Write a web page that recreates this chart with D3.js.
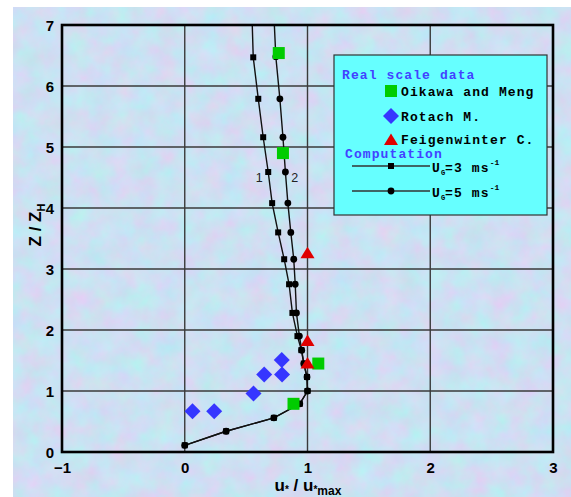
<!DOCTYPE html>
<html>
<head>
<meta charset="utf-8">
<script src="https://cdn.jsdelivr.net/npm/d3@7"></script>
<style>
  html, body { margin: 0; padding: 0; background: #fff; }
  svg { display: block; }
</style>
</head>
<body>
<div id="chart"></div>
<script>
//////////////////////////////////////////
//////////////// Data ////////////////////
//////////////////////////////////////////

// computed profile 1, U_G = 3 m/s (first point = where the line leaves the frame, no marker)
const ug3U = [0.55, 0.558, 0.599, 0.639, 0.680, 0.712, 0.761, 0.81, 0.85, 0.877, 0.918, 0.95, 0.97, 0.996, 1.0, 0.937, 0.726, 0.337, 0.0];
const ug3Z = [7.0, 6.47, 5.79, 5.16, 4.59, 4.08, 3.60, 3.16, 2.75, 2.28, 1.90, 1.67, 1.45, 1.23, 1.00, 0.79, 0.56, 0.34, 0.11];

// computed profile 2, U_G = 5 m/s
const ug5U = [0.73, 0.742, 0.775, 0.80, 0.82, 0.84, 0.864, 0.888, 0.90, 0.91, 0.934, 0.953, 0.97, 0.996, 1.0, 0.937, 0.726, 0.337, 0.0];
const ug5Z = [7.0, 6.48, 5.79, 5.16, 4.59, 4.08, 3.60, 3.16, 2.75, 2.28, 1.90, 1.67, 1.45, 1.23, 1.00, 0.79, 0.56, 0.34, 0.11];

// real scale data
const oikawaU = [0.766, 0.80, 1.088, 0.886];
const oikawaZ = [6.54, 4.90, 1.45, 0.79];
const rotachU = [0.063, 0.24, 0.56, 0.647, 0.793, 0.79];
const rotachZ = [0.67, 0.67, 0.96, 1.27, 1.27, 1.51];
const feigenU = [1.0, 1.0, 1.0];
const feigenZ = [3.26, 1.82, 1.45];

// curve labels
const curveLabels = ["1", "2"];
const curveLabelU = [0.607, 0.895];
const curveLabelZ = [4.5, 4.5];

const xTicks = [-1, 0, 1, 2, 3];
const yTicks = [0, 1, 2, 3, 4, 5, 6, 7];

//////////////////////////////////////////
/////////////// Settings /////////////////
//////////////////////////////////////////

const WIDTH = 571, HEIGHT = 497;
const PLOT = { left: 62, right: 553, top: 25, bottom: 452 };

const COLORS = {
    frame: "#000",
    grid: "#3a3a3a",
    line: "#111",
    green: "#00cc00",
    blue: "#3636ff",
    red: "#e00000",
    legendFill: "#66ffff",
    legendHead: "#4242ff"
};

const svg = d3.select("#chart").append("svg")
    .attr("width", WIDTH)
    .attr("height", HEIGHT);

//mottled pastel background
const defs = svg.append("defs");
const filt = defs.append("filter").attr("id", "paper")
    .attr("x", 0).attr("y", 0).attr("width", "100%").attr("height", "100%")
    .attr("color-interpolation-filters", "sRGB");
filt.append("feTurbulence")
    .attr("type", "fractalNoise")
    .attr("baseFrequency", 0.045)
    .attr("numOctaves", 4)
    .attr("seed", 7)
    .attr("result", "noise");
filt.append("feColorMatrix")
    .attr("in", "noise")
    .attr("type", "matrix")
    .attr("values", [
        0.22, 0, 0, 0, 0.69,
        -0.14, 0.06, 0, 0, 0.92,
        0, 0, 0.06, 0, 0.92,
        0, 0, 0, 0, 1
    ].join(" "));

svg.append("rect")
    .attr("x", 13).attr("y", 7)
    .attr("width", WIDTH - 13).attr("height", HEIGHT - 7)
    .attr("fill", "#cfe0f3");
svg.append("rect")
    .attr("x", 13).attr("y", 7)
    .attr("width", WIDTH - 13).attr("height", HEIGHT - 7)
    .attr("filter", "url(#paper)");

//////////////////////////////////////////
//////////////// Scales //////////////////
//////////////////////////////////////////

const x = d3.scaleLinear().domain([-1, 3]).range([PLOT.left, PLOT.right]);
const y = d3.scaleLinear().domain([0, 7]).range([PLOT.bottom, PLOT.top]);

// grid
const grid = svg.append("g");
grid.selectAll(".gx").data(xTicks.slice(1, -1)).join("line")
    .attr("x1", d => x(d)).attr("x2", d => x(d))
    .attr("y1", PLOT.top).attr("y2", PLOT.bottom)
    .attr("stroke", COLORS.grid).attr("stroke-width", 1.4);
grid.selectAll(".gy").data(yTicks.slice(1, -1)).join("line")
    .attr("x1", PLOT.left).attr("x2", PLOT.right)
    .attr("y1", d => y(d)).attr("y2", d => y(d))
    .attr("stroke", COLORS.grid).attr("stroke-width", 1.4);

// axes (labels only)
const xAxis = svg.append("g")
    .attr("transform", `translate(0,${PLOT.bottom})`)
    .call(d3.axisBottom(x).tickValues(xTicks).tickSize(0).tickPadding(7).tickFormat(d3.format("d")));
const yAxis = svg.append("g")
    .attr("transform", `translate(${PLOT.left},0)`)
    .call(d3.axisLeft(y).tickValues(yTicks).tickSize(0).tickPadding(8).tickFormat(d3.format("d")));
[xAxis, yAxis].forEach(a => {
    a.select(".domain").remove();
    a.selectAll("text")
        .attr("font-family", "Liberation Sans, Arial, sans-serif")
        .attr("font-weight", "bold")
        .attr("font-size", 15)
        .attr("fill", "#000");
});
xAxis.selectAll("text").attr("dy", "0.9em");
yAxis.selectAll("text").attr("dy", "0.35em");

//////////////////////////////////////////
//////////////// Curves //////////////////
//////////////////////////////////////////

const line = d3.line().x(d => x(d[0])).y(d => y(d[1]));
const clip = defs.append("clipPath").attr("id", "plotclip");
clip.append("rect").attr("x", PLOT.left).attr("y", PLOT.top)
    .attr("width", PLOT.right - PLOT.left).attr("height", PLOT.bottom - PLOT.top);

const curves = svg.append("g").attr("clip-path", "url(#plotclip)");
const ug3 = d3.zip(ug3U, ug3Z);
const ug5 = d3.zip(ug5U, ug5Z);

[ug3, ug5].forEach(pts => {
    curves.append("path").datum(pts)
        .attr("d", line)
        .attr("fill", "none")
        .attr("stroke", COLORS.line)
        .attr("stroke-width", 1.4);
});

curves.selectAll(".sq").data(ug3.filter(d => d[1] < 7)).join("rect")
    .attr("x", d => x(d[0]) - 3).attr("y", d => y(d[1]) - 3)
    .attr("width", 6).attr("height", 6)
    .attr("fill", "#000");
curves.selectAll(".ci").data(ug5.filter(d => d[1] < 7)).join("circle")
    .attr("cx", d => x(d[0])).attr("cy", d => y(d[1]))
    .attr("r", 3.4)
    .attr("fill", "#000");

// measurements
const symbols = svg.append("g");
symbols.selectAll(".oik").data(d3.zip(oikawaU, oikawaZ)).join("rect")
    .attr("x", d => x(d[0]) - 6).attr("y", d => y(d[1]) - 6)
    .attr("width", 12).attr("height", 12)
    .attr("fill", COLORS.green);
symbols.selectAll(".rot").data(d3.zip(rotachU, rotachZ)).join("path")
    .attr("transform", d => `translate(${x(d[0])},${y(d[1])})`)
    .attr("d", "M0,-8L8,0L0,8L-8,0Z")
    .attr("fill", COLORS.blue);
symbols.selectAll(".fei").data(d3.zip(feigenU, feigenZ)).join("path")
    .attr("transform", d => `translate(${x(d[0])},${y(d[1])})`)
    .attr("d", "M0,-6.5L7,5L-7,5Z")
    .attr("fill", COLORS.red);

// curve numbers
svg.selectAll(".clab").data(curveLabels).join("text")
    .attr("x", (d, i) => x(curveLabelU[i]))
    .attr("y", (d, i) => y(curveLabelZ[i]))
    .attr("dy", "0.35em")
    .attr("text-anchor", "middle")
    .attr("font-family", "Liberation Sans, Arial, sans-serif")
    .attr("font-size", 12.5)
    .attr("fill", "#222")
    .text(d => d);

// frame
svg.append("rect")
    .attr("x", PLOT.left).attr("y", PLOT.top)
    .attr("width", PLOT.right - PLOT.left).attr("height", PLOT.bottom - PLOT.top)
    .attr("fill", "none")
    .attr("stroke", COLORS.frame)
    .attr("stroke-width", 2.6);

//////////////////////////////////////////
//////////////// Titles //////////////////
//////////////////////////////////////////

const xt = svg.append("text")
    .attr("x", 308).attr("y", 491)
    .attr("text-anchor", "middle")
    .attr("font-family", "Liberation Sans, Arial, sans-serif")
    .attr("font-weight", "bold")
    .attr("font-size", 17);
xt.append("tspan").text("u");
xt.append("tspan").attr("font-size", 10).attr("dy", 2).text("*");
xt.append("tspan").attr("dy", -2).text(" / u");
xt.append("tspan").attr("font-size", 10).attr("dy", 2).text("*");
xt.append("tspan").attr("font-size", 12).attr("dy", 1.5).text("max");

const yt = svg.append("text")
    .attr("transform", "translate(41,225) rotate(-90)")
    .attr("text-anchor", "middle")
    .attr("font-family", "Liberation Sans, Arial, sans-serif")
    .attr("font-weight", "bold")
    .attr("font-size", 17);
yt.append("tspan").text("Z / Z");
yt.append("tspan").attr("font-size", 11).attr("dy", 4).text("H");

//////////////////////////////////////////
//////////////// Legend //////////////////
//////////////////////////////////////////

const lg = svg.append("g");
lg.append("rect")
    .attr("x", 334).attr("y", 55).attr("width", 213).attr("height", 160)
    .attr("fill", COLORS.legendFill)
    .attr("stroke", "#333").attr("stroke-width", 1.2);

const mono = t => t.attr("font-family", "Liberation Mono, Courier New, monospace")
    .attr("font-weight", "bold")
    .attr("font-size", 13)
    .attr("letter-spacing", 1.1);

lg.append("text").attr("x", 342).attr("y", 79).attr("fill", COLORS.legendHead).call(mono).text("Real scale data");
lg.append("rect").attr("x", 385).attr("y", 85).attr("width", 12).attr("height", 12).attr("fill", COLORS.green);
lg.append("text").attr("x", 401).attr("y", 96).attr("fill", "#000").call(mono).text("Oikawa and Meng");
lg.append("path").attr("transform", "translate(391,116)").attr("d", "M0,-8L8,0L0,8L-8,0Z").attr("fill", COLORS.blue);
lg.append("text").attr("x", 401).attr("y", 121).attr("fill", "#000").call(mono).text("Rotach M.");
lg.append("path").attr("transform", "translate(391,140)").attr("d", "M0,-6.5L7,5L-7,5Z").attr("fill", COLORS.red);
lg.append("text").attr("x", 401).attr("y", 144).attr("fill", "#000").call(mono).text("Feigenwinter C.");
lg.append("text").attr("x", 345).attr("y", 158).attr("fill", COLORS.legendHead).call(mono).text("Computation");

const compRows = [{ y: 166, ug: "3", marker: "sq" }, { y: 191, ug: "5", marker: "ci" }];
compRows.forEach(r => {
    lg.append("line").attr("x1", 352).attr("x2", 430).attr("y1", r.y).attr("y2", r.y)
        .attr("stroke", "#333").attr("stroke-width", 1.4);
    if (r.marker === "sq") {
        lg.append("rect").attr("x", 388).attr("y", r.y - 3).attr("width", 6).attr("height", 6).attr("fill", "#000");
    } else {
        lg.append("circle").attr("cx", 391).attr("cy", r.y).attr("r", 3.4).attr("fill", "#000");
    }
    const t = lg.append("text").attr("x", 432).attr("y", r.y + 6).attr("fill", "#000").call(mono);
    t.append("tspan").text("U");
    t.append("tspan").attr("font-size", 7).attr("letter-spacing", 0).attr("dy", 3).text("G");
    t.append("tspan").attr("dy", -3).text("=" + r.ug + " ms");
    t.append("tspan").attr("font-size", 8).attr("letter-spacing", 0).attr("dy", -7).text("-1");
});
</script>
</body>
</html>
